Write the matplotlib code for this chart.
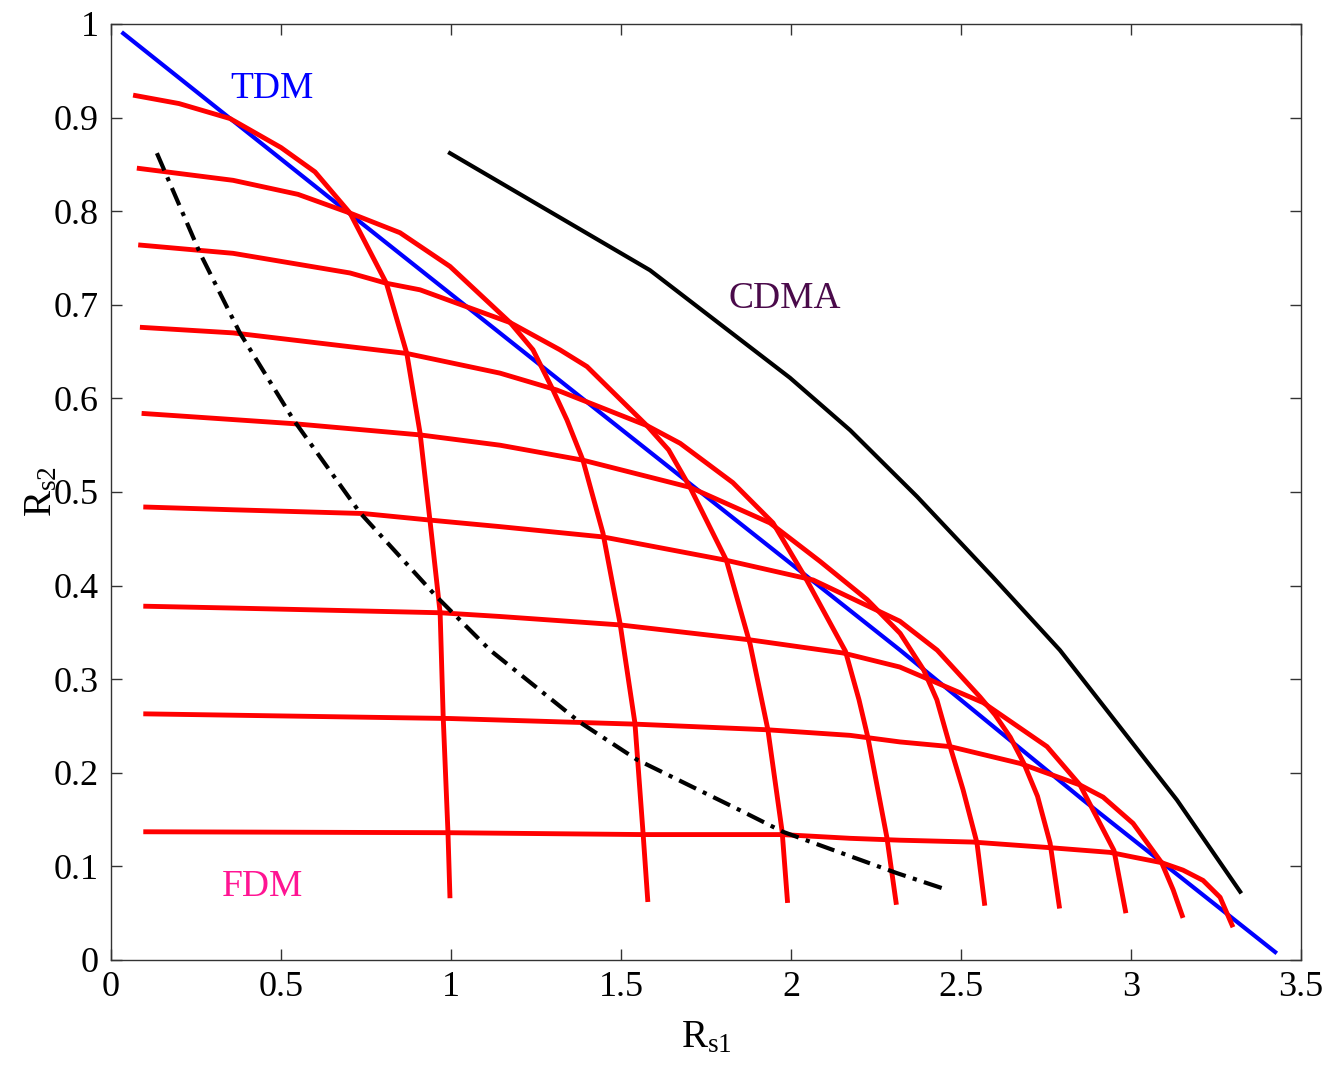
import numpy as np
import matplotlib
matplotlib.use("Agg")
import matplotlib.pyplot as plt
from matplotlib.ticker import FuncFormatter

plt.rcParams['font.family'] = ['Liberation Serif', 'DejaVu Serif']
plt.rcParams['mathtext.fontset'] = 'custom'
plt.rcParams['mathtext.rm'] = 'Liberation Serif'
plt.rcParams['mathtext.it'] = 'Liberation Serif'

# FDM curves (red), top to bottom
fdm_x = [
    [0.065, 0.2, 0.35, 0.5, 0.6, 0.703, 0.81, 0.87, 0.909, 0.938, 0.968, 0.977, 0.991, 0.997],
    [0.076, 0.359, 0.55, 0.703, 0.85, 0.997, 1.174, 1.241, 1.3, 1.341, 1.388, 1.447, 1.497,
     1.541, 1.565, 1.579],
    [0.08, 0.359, 0.703, 0.81, 0.909, 1.174, 1.32, 1.4, 1.576, 1.64, 1.703, 1.81, 1.88,
     1.932, 1.974, 1.99],
    [0.085, 0.359, 0.87, 1.144, 1.311, 1.576, 1.674, 1.829, 1.947, 2.04, 2.16, 2.2, 2.226,
     2.282, 2.31],
    [0.09, 0.537, 0.909, 1.144, 1.388, 1.703, 1.938, 2.085, 2.224, 2.321, 2.39, 2.429, 2.468,
     2.506, 2.547, 2.57],
    [0.095, 0.359, 0.742, 0.938, 1.144, 1.447, 1.81, 2.065, 2.32, 2.43, 2.556, 2.6, 2.645,
     2.685, 2.725, 2.762, 2.79],
    [0.095, 0.359, 0.968, 1.144, 1.497, 1.88, 2.153, 2.32, 2.565, 2.753, 2.85, 2.95, 2.985],
    [0.095, 0.997, 1.541, 1.929, 2.174, 2.32, 2.468, 2.674, 2.85, 2.918, 3.006, 3.09, 3.124,
     3.153],
    [0.095, 0.991, 1.565, 1.974, 2.174, 2.32, 2.535, 2.762, 2.938, 3.006, 3.09, 3.153, 3.212,
     3.262, 3.3],
]
fdm_y = [
    [0.924, 0.915, 0.899, 0.868, 0.842, 0.798, 0.723, 0.648, 0.563, 0.47, 0.371, 0.26, 0.137, 0.066],
    [0.846, 0.833, 0.818, 0.798, 0.777, 0.741, 0.681, 0.652, 0.609, 0.577, 0.534, 0.456, 0.36,
     0.253, 0.135, 0.062],
    [0.764, 0.755, 0.734, 0.723, 0.716, 0.681, 0.652, 0.634, 0.571, 0.545, 0.505, 0.427, 0.337,
     0.246, 0.137, 0.061],
    [0.676, 0.67, 0.648, 0.627, 0.609, 0.571, 0.552, 0.51, 0.467, 0.41, 0.33, 0.278, 0.238,
     0.131, 0.059],
    [0.584, 0.573, 0.561, 0.55, 0.534, 0.505, 0.467, 0.426, 0.385, 0.349, 0.31, 0.278, 0.228,
     0.182, 0.125, 0.058],
    [0.484, 0.481, 0.477, 0.47, 0.463, 0.452, 0.427, 0.406, 0.362, 0.331, 0.281, 0.262, 0.238,
     0.21, 0.175, 0.125, 0.055],
    [0.378, 0.376, 0.371, 0.367, 0.358, 0.342, 0.328, 0.313, 0.275, 0.228, 0.187, 0.117, 0.05],
    [0.263, 0.258, 0.252, 0.246, 0.24, 0.233, 0.228, 0.21, 0.187, 0.174, 0.146, 0.104, 0.075,
     0.045],
    [0.137, 0.136, 0.134, 0.134, 0.13, 0.128, 0.126, 0.12, 0.115, 0.11, 0.104, 0.096, 0.085,
     0.067, 0.035],
]

# TDM boundary (blue)
tdm_x = [0.036, 0.703, 1.459, 2.321, 2.859, 3.424]
tdm_y = [0.99, 0.797, 0.579, 0.331, 0.171, 0.0085]

# CDMA boundary (black solid)
cdma_x = [0.997, 1.585, 1.997, 2.174, 2.371, 2.594, 2.791, 3.135, 3.321]
cdma_y = [0.862, 0.737, 0.622, 0.566, 0.495, 0.409, 0.331, 0.171, 0.073]

# dash-dot curve (black)
dd_x = [0.135, 0.262, 0.379, 0.537, 0.732, 0.958, 1.115, 1.379, 1.547, 1.85, 1.976, 2.31, 2.459]
dd_y = [0.862, 0.755, 0.67, 0.577, 0.478, 0.388, 0.331, 0.254, 0.214, 0.16, 0.137, 0.093, 0.075]

fig = plt.figure(figsize=(13.3, 10.68), dpi=100)
ax = fig.add_axes([111 / 1330, 108 / 1068, 1190 / 1330, 936 / 1068])

ax.plot(tdm_x, tdm_y, color='#0000ff', lw=3.0, zorder=2)
for xs, ys in zip(fdm_x, fdm_y):
    ax.plot(xs, ys, color='#ff0000', lw=3.5, zorder=3, solid_capstyle='butt')
ax.plot(cdma_x, cdma_y, color='black', lw=3.0, zorder=4)
ax.plot(dd_x, dd_y, color='black', lw=3.0, zorder=5, dashes=(4.5, 1.8, 1.0, 1.8))

ax.text(0.35, 0.921, 'TDM', color='#0000ff', fontsize=27)
ax.text(1.815, 0.697, 'CDMA', color='#4a0a4a', fontsize=27)
ax.text(0.326, 0.068, 'FDM', color='#ff1493', fontsize=27)

ax.set_xlim(0, 3.5)
ax.set_ylim(0, 1)
ax.set_xticks(np.arange(0, 3.51, 0.5))
ax.set_yticks(np.arange(0, 1.01, 0.1))
fmt = FuncFormatter(lambda v, p: '%g' % round(v, 2))
ax.xaxis.set_major_formatter(fmt)
ax.yaxis.set_major_formatter(fmt)
ax.tick_params(direction='in', length=8, width=1, top=True, right=True,
               labelsize=26, color='#333333')
ax.tick_params(axis='x', pad=8)
ax.tick_params(axis='y', pad=9)
for s in ax.spines.values():
    s.set_linewidth(1.0)
    s.set_color('#333333')

ax.set_xlabel(r'$\mathregular{R_{s1}}$', fontsize=28)
ax.set_ylabel(r'$\mathregular{R_{s2}}$', fontsize=28)
ax.xaxis.set_label_coords(0.5, -0.063)
ax.yaxis.set_label_coords(-0.043, 0.5)

fig.savefig('out.png', dpi=100)
